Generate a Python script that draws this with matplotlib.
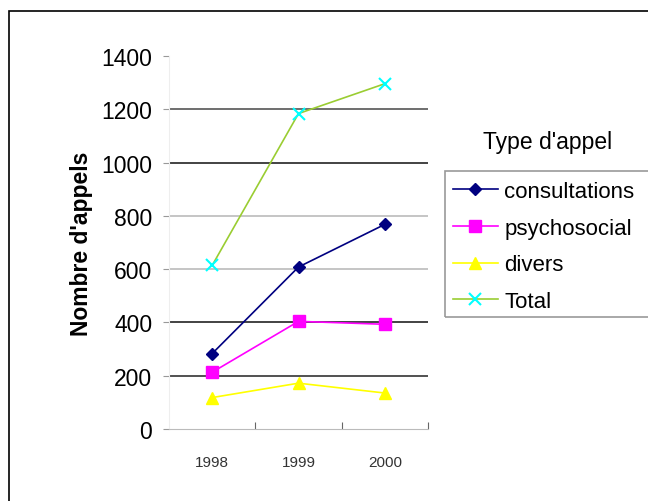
import matplotlib
matplotlib.use("Agg")
import matplotlib.pyplot as plt
from matplotlib.patches import Rectangle

years = ["1998", "1999", "2000"]
consultations = [283, 608, 768]
psychosocial = [213, 404, 393]
divers = [118, 172, 135]
total = [614, 1184, 1296]
y_ticks = [0, 200, 400, 600, 800, 1000, 1200, 1400]

W, H = 648, 502
fig = plt.figure(figsize=(W / 100, H / 100), dpi=100)
plt.rcParams["font.family"] = ["Liberation Sans", "DejaVu Sans"]

# outer frame, open on the right and bottom
fig.patches.append(Rectangle((9 / W, -0.1), 1.2, 1 - 12 / H + 0.1, transform=fig.transFigure,
                             fill=False, edgecolor="black", lw=1.2))

ax = fig.add_axes([169 / W, 1 - 430 / H, (428 - 169) / W, (430 - 57) / H])
x = [1, 2, 3]
ax.plot(x, consultations, color="#000080", marker="D", ms=6.5, lw=1.2, label="consultations")
ax.plot(x, psychosocial, color="#FF00FF", marker="s", ms=8.5, lw=1.2, label="psychosocial")
ax.plot(x, divers, color="#FFFF00", marker="^", ms=8.5, lw=1.2, label="divers")
ax.plot(x, total, color="#9ACD32", marker="x", ms=8, mec="#00FFFF", mew=1.5, lw=1.2,
        label="Total")

ax.set_xlim(0.5, 3.5)
ax.set_ylim(0, 1400)
ax.set_yticks(y_ticks)
ax.set_yticklabels([str(v) for v in y_ticks], fontsize=16.5)
ax.set_xticks([1.5, 2.5, 3.5])
ax.set_xticklabels([])
ax.set_xticks(x, years, minor=True)
ax.tick_params(axis="x", which="minor", length=0, labelsize=11, pad=19, colors="#333333")
ax.tick_params(axis="x", which="major", length=5, color="#666666", direction="in")
ax.tick_params(axis="y", length=4, color="#999999", pad=8)

# horizontal gridlines
grid_colors = {200: "#333333", 400: "#222222", 600: "#bbbbbb", 800: "#bbbbbb",
               1000: "#222222", 1200: "#555555"}
for v, c in grid_colors.items():
    ax.axhline(v, color=c, lw=1.2, zorder=0)

for s in ["top", "right"]:
    ax.spines[s].set_visible(False)
ax.spines["left"].set_color("#eeeeee")
ax.spines["bottom"].set_color("#bbbbbb")

ax.set_ylabel("Nombre d'appels", fontsize=16.5, fontweight="bold", labelpad=6)

# legend box runs off the right edge
fig.patches.append(Rectangle((445 / W, 1 - 318 / H), 1.0, (318 - 172) / H,
                             transform=fig.transFigure, fill=False,
                             edgecolor="#999999", lw=1.2))
fig.legend(loc="upper left", bbox_to_anchor=(451 / W, 1 - 180 / H), fontsize=16,
           frameon=False, borderpad=0.1, borderaxespad=0, handlelength=2.0,
           handletextpad=0.3, labelspacing=0.7)
fig.text(548 / W, 1 - 143 / H, "Type d'appel", fontsize=16.5, ha="center", va="center")

fig.savefig("out.png", dpi=100)
